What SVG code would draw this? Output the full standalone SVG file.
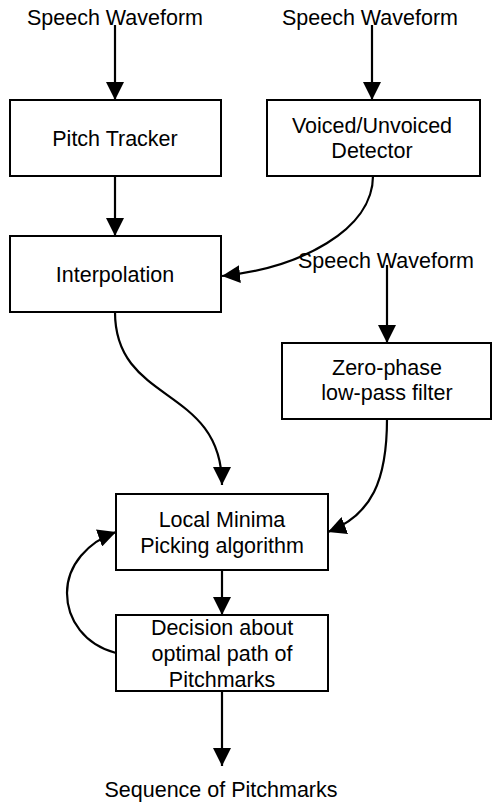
<svg xmlns="http://www.w3.org/2000/svg" width="492" height="802" viewBox="0 0 492 802">
<style>
.box{fill:#fff;stroke:#000;stroke-width:2}
.t{font-family:"Liberation Sans",Arial,sans-serif;font-size:21.5px;fill:#000;text-anchor:middle}
.c{fill:none;stroke:#000;stroke-width:2.2}
</style>
<defs>
<marker id="ah" markerUnits="userSpaceOnUse" markerWidth="18" markerHeight="18" viewBox="0 0 16 16" refX="16" refY="8" orient="auto">
<path d="M0,0 L16,8 L0,16 Z" fill="#000"/>
</marker>
</defs>
<rect width="492" height="802" fill="#fff"/>
<g id="connectors">
<path class="c" d="M115,25 L115,100" marker-end="url(#ah)"/>
<path class="c" d="M372,25 L372,100" marker-end="url(#ah)"/>
<path class="c" d="M115,176 L115,236" marker-end="url(#ah)"/>
<path class="c" d="M373,176 C373,230 300,268 222,276" marker-end="url(#ah)"/>
<path class="c" d="M387,265 L387,343" marker-end="url(#ah)"/>
<path class="c" d="M115,312 C115,405 222,385 222,485" marker-end="url(#ah)"/>
<path class="c" d="M387,419 C387,480 372,515 328,532" marker-end="url(#ah)"/>
<path class="c" d="M116,653 C85,645 67,620 67,593 C67,565 88,542 116,532" marker-end="url(#ah)"/>
<path class="c" d="M222,570 L222,615" marker-end="url(#ah)"/>
<path class="c" d="M222,691 L222,766" marker-end="url(#ah)"/>
</g>
<g id="label-sw1"><text class="t" x="115" y="25">Speech Waveform</text></g>
<g id="label-sw2"><text class="t" x="370" y="25">Speech Waveform</text></g>
<g id="pitch-tracker">
<rect class="box" x="10" y="100" width="211" height="76"/>
<text class="t" x="115" y="146">Pitch Tracker</text>
</g>
<g id="vuv-detector">
<rect class="box" x="267" y="100" width="213" height="76"/>
<text class="t" x="372" y="133">Voiced/Unvoiced</text>
<text class="t" x="372" y="158">Detector</text>
</g>
<g id="interpolation">
<rect class="box" x="10" y="236" width="211" height="76"/>
<text class="t" x="115" y="282">Interpolation</text>
</g>
<g id="label-sw3"><text class="t" x="386" y="268">Speech Waveform</text></g>
<g id="zero-phase">
<rect class="box" x="282" y="343" width="209" height="76"/>
<text class="t" x="387" y="375">Zero-phase</text>
<text class="t" x="387" y="400">low-pass filter</text>
</g>
<g id="local-minima">
<rect class="box" x="116" y="494" width="212" height="76"/>
<text class="t" x="222" y="527">Local Minima</text>
<text class="t" x="222" y="553">Picking algorithm</text>
</g>
<g id="decision">
<rect class="box" x="116" y="615" width="212" height="76"/>
<text class="t" x="222" y="635">Decision about</text>
<text class="t" x="222" y="661">optimal path of</text>
<text class="t" x="222" y="687">Pitchmarks</text>
</g>
<g id="label-seq"><text class="t" x="221" y="797">Sequence of Pitchmarks</text></g>
</svg>
